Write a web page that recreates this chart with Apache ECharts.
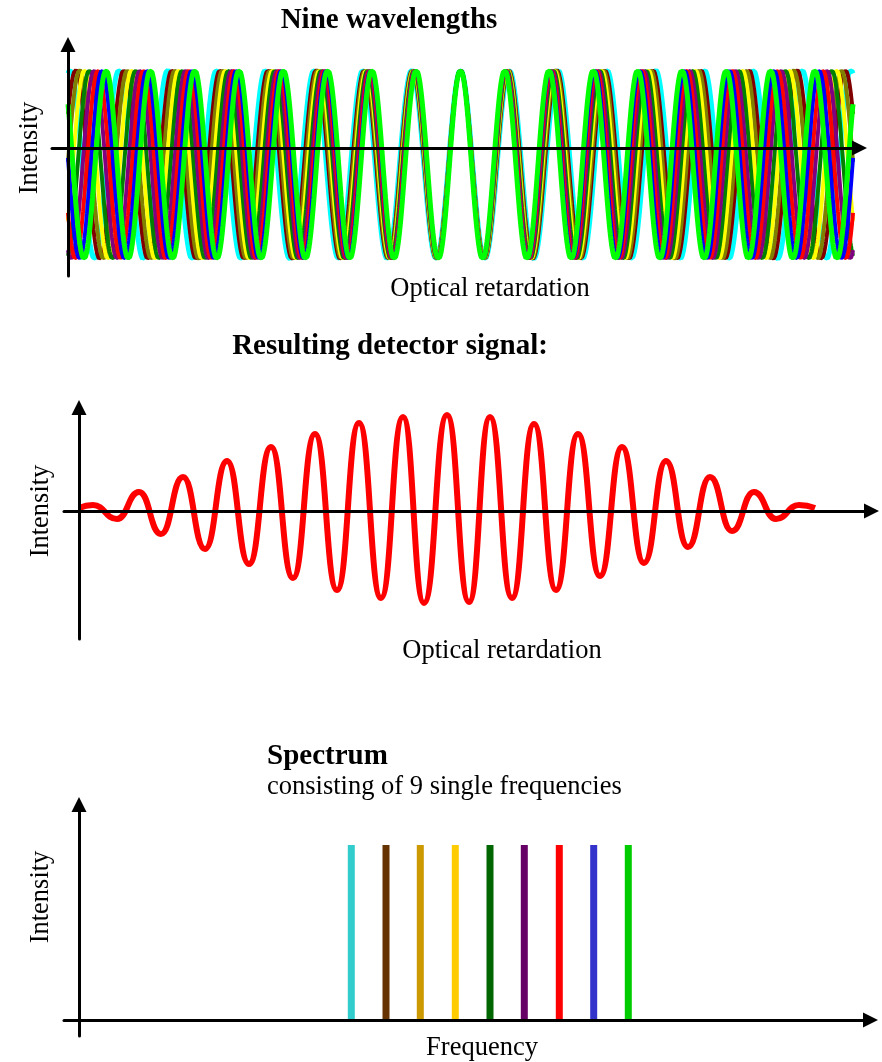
<!DOCTYPE html>
<html>
<head>
<meta charset="utf-8">
<script src="https://cdn.jsdelivr.net/npm/echarts@6/dist/echarts.min.js"></script>
<style>
  html, body { margin: 0; padding: 0; background: #ffffff; }
  #chart { width: 882px; height: 1062px; }
</style>
</head>
<body>
<div id="chart"></div>
<script>
// ---------- DATA ----------
// Panel 1: nine monochromatic waves (wavelengths in retardation units, lowest to highest frequency)
const WAVE_NAMES = ['cyan', 'maroon', 'olive', 'yellow', 'green', 'purple', 'red', 'blue', 'lime'];
const WAVELENGTHS = [48.8, 48.1, 47.6, 47.0, 46.4, 45.8, 45.3, 44.8, 44.3];
const ZERO_PATH_DIFFERENCE = 392.5;      // retardation where all waves are in phase
const RETARDATION_RANGE = [0, 785];       // extent of the drawn waves
const WAVE_BASELINE = -0.175;             // wave mean relative to the drawn axis

// Panel 2: detector signal, extrema [retardation, intensity]
const SIGNAL_RETARDATION = [0, 14, 38, 60, 82, 104, 126, 148, 170, 192, 214, 236, 258, 280, 302, 324, 345,
  368, 390, 411, 433, 455, 477, 499, 521, 543, 565, 587, 609, 631, 653, 675, 697, 720, 736];
const SIGNAL_INTENSITY = [3, 6, -8, 19, -23, 34, -38, 50, -53, 64, -67, 77, -79, 88, -87, 94, -92,
  96, -91, 94, -87, 87, -79, 77, -65, 64, -52, 50, -36, 34, -20, 19, -8, 6, 3];

// Panel 3: spectrum of nine single frequencies
const SPECTRUM_FREQUENCY = [272.3, 307, 341.3, 376.3, 411, 445.3, 480.3, 514.7, 549.3];
const SPECTRUM_INTENSITY = [1, 1, 1, 1, 1, 1, 1, 1, 1];

// Texts
const TEXTS = {
  title1: 'Nine wavelengths',
  title2: 'Resulting detector signal:',
  title3: 'Spectrum',
  subtitle3: 'consisting of 9 single frequencies',
  xName12: 'Optical retardation',
  xName3: 'Frequency',
  yName: 'Intensity'
};

// ---------- STYLES ----------
const WAVE_COLORS = ['#00ffff', '#800000', '#808000', '#ffff00', '#008000', '#800080', '#ff0000', '#0000ff', '#00ff00'];
const WAVE_WIDTHS = [5, 4, 4, 4, 4, 4, 4, 4, 5];
const SPECTRUM_COLORS = ['#33cccc', '#663300', '#cc9900', '#ffcc00', '#006600', '#660066', '#ff0000', '#3333cc', '#00cc00'];
const FONT = '"Liberation Serif", "Times New Roman", serif';

// ---------- BUILD ----------
const waveSeries = WAVELENGTHS.map(function (lambda, i) {
  const pts = [];
  for (let x = RETARDATION_RANGE[0]; x <= RETARDATION_RANGE[1] + 1e-9; x += 0.5) {
    pts.push([x, WAVE_BASELINE + Math.cos(2 * Math.PI * (x - ZERO_PATH_DIFFERENCE) / lambda)]);
  }
  return {
    name: WAVE_NAMES[i], type: 'line', xAxisIndex: 0, yAxisIndex: 0,
    data: pts, showSymbol: false, symbol: 'none', silent: true, clip: false,
    lineStyle: { color: WAVE_COLORS[i], width: WAVE_WIDTHS[i] }
  };
});

const signalData = SIGNAL_RETARDATION.map(function (x, i) { return [x, SIGNAL_INTENSITY[i]]; });
const spectrumData = SPECTRUM_FREQUENCY.map(function (f, i) { return [f, SPECTRUM_INTENSITY[i]]; });

function axisLineStyle() {
  return { show: true, onZero: true, symbol: ['none', 'triangle'], symbolSize: [15, 15],
           lineStyle: { color: '#000', width: 3 } };
}
function xAx(grid, min, max) {
  return { type: 'value', gridIndex: grid, min: min, max: max, z: 10,
    axisLine: axisLineStyle(), axisTick: { show: false }, axisLabel: { show: false }, splitLine: { show: false } };
}
function yAx(grid, min, max) {
  return { type: 'value', gridIndex: grid, min: min, max: max, z: 10,
    axisLine: axisLineStyle(), axisTick: { show: false }, axisLabel: { show: false }, splitLine: { show: false } };
}

function txt(text, x, y, font, opts) {
  opts = opts || {};
  return { type: 'text', x: x, y: y, rotation: opts.rotation || 0, z: 100,
    style: { text: text, font: font, fill: '#000', align: opts.align || 'center', verticalAlign: 'middle' } };
}
const BOLD = 'bold 29px ' + FONT;
const REG = '26.5px ' + FONT;

const option = {
  animation: false,
  backgroundColor: '#ffffff',
  grid: [
    { left: 52, top: 44.5, width: 807.5, height: 231.5 },
    { left: 64, top: 407.5, width: 807.5, height: 231.5 },
    { left: 64, top: 804.5, width: 806.5, height: 231.5 }
  ],
  xAxis: [ xAx(0, -16, 791.5), xAx(1, -15, 792.5), xAx(2, -15, 791.5) ],
  yAxis: [ yAx(0, -1.3545, 1.0952), yAx(1, -128, 103.5), yAx(2, -0.0914, 1.2314) ],
  series: waveSeries.concat([
    { name: 'signal', type: 'line', xAxisIndex: 1, yAxisIndex: 1, data: signalData,
      smooth: 0.5, smoothMonotone: 'x', showSymbol: false, symbol: 'none', silent: true,
      lineStyle: { color: '#ff0000', width: 6 } },
    { name: 'spectrum', type: 'custom', xAxisIndex: 2, yAxisIndex: 2, data: spectrumData, silent: true, z: 2,
      renderItem: function (params, api) {
        const p0 = api.coord([api.value(0), 0]);
        const p1 = api.coord([api.value(0), api.value(1)]);
        return { type: 'rect', shape: { x: p0[0] - 3.5, y: p1[1], width: 7, height: p0[1] - p1[1] },
                 style: { fill: SPECTRUM_COLORS[params.dataIndex] } };
      } }
  ]),
  graphic: [
    txt(TEXTS.title1, 389, 21, BOLD),
    txt(TEXTS.xName12, 490, 289, REG),
    txt(TEXTS.yName, 30, 148, REG, { rotation: Math.PI / 2 }),
    txt(TEXTS.title2, 390, 347, BOLD),
    txt(TEXTS.yName, 41, 511, REG, { rotation: Math.PI / 2 }),
    txt(TEXTS.xName12, 502, 651, REG),
    txt(TEXTS.title3, 267, 757, BOLD, { align: 'left' }),
    txt(TEXTS.subtitle3, 267, 787, REG, { align: 'left' }),
    txt(TEXTS.yName, 41, 897, REG, { rotation: Math.PI / 2 }),
    txt(TEXTS.xName3, 482, 1048, REG)
  ]
};

const chart = echarts.init(document.getElementById('chart'), null, { renderer: 'canvas' });
chart.setOption(option);
</script>
</body>
</html>
